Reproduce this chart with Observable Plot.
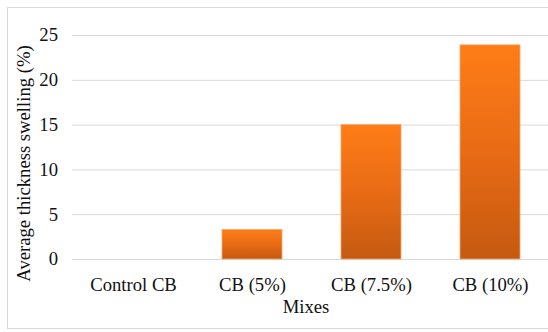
<!DOCTYPE html>
<html>
<head>
<meta charset="utf-8">
<script src="https://cdn.jsdelivr.net/npm/d3@7"></script>
<script src="https://cdn.jsdelivr.net/npm/@observablehq/plot@0.6"></script>
<style>
  html, body { margin: 0; padding: 0; background: #fff; overflow: hidden; }
  #wrap { position: relative; width: 548px; height: 332px; }
  #border { position: absolute; left: 7px; top: 7px; width: 600px; height: 322px; border: 1px solid #d9d9d9; box-sizing: border-box; pointer-events: none; }
  #chart { position: absolute; left: 0; top: 0; }
</style>
</head>
<body>
<div id="wrap">
  <div id="chart"></div>
  <div id="border"></div>
</div>
<script>
// Average thickness swelling per mix
const mixes = ["Control CB", "CB (5%)", "CB (7.5%)", "CB (10%)"];
const swelling = [0, 3.3, 15, 23.9];
const yTicks = [0, 5, 10, 15, 20, 25];
const xTitle = "Mixes";
const yTitle = "Average thickness swelling (%)";

const rows = mixes.map((mix, i) => ({mix, value: swelling[i]}));

const font = "'Liberation Serif', 'Times New Roman', serif";
const fs = 18.67;

const chart = Plot.plot({
  width: 548,
  height: 332,
  marginLeft: 72,
  marginRight: 0,
  marginTop: 35,
  marginBottom: 73,
  style: {fontFamily: font, fontSize: fs + "px", color: "#111", background: "transparent"},
  x: {domain: mixes, range: [72, 550], paddingInner: 0.5, paddingOuter: 0.25, label: null},
  y: {domain: [0, 25], label: null},
  marks: [
    Plot.ruleY(yTicks, {stroke: "#d9d9d9", strokeWidth: 1}),
    Plot.barY(rows, {
      x: "mix",
      y: "value",
      fill: "url(#barFill)",
      stroke: "#f5a86a",
      strokeWidth: 0.8,
      filter: d => d.value > 0
    }),
    Plot.axisY({ticks: yTicks, tickSize: 0, tickPadding: 14.5, label: null, fontSize: fs}),
    Plot.axisX({tickSize: 0, tickPadding: 17.75, label: null, fontSize: fs}),
    Plot.text([xTitle], {
      frameAnchor: "bottom", textAnchor: "middle", lineAnchor: "middle",
      dx: -4.5, dy: 48, fontSize: fs, fill: "#111"
    }),
    Plot.text([yTitle], {
      frameAnchor: "left", textAnchor: "middle", lineAnchor: "middle", rotate: -90,
      dx: -48, dy: 16, fontSize: fs, fill: "#111"
    })
  ]
});

// vertical gradient used to fill each bar, light orange on top to darker at the base
const defs = d3.select(chart).insert("defs", ":first-child");
const grad = defs.append("linearGradient")
  .attr("id", "barFill")
  .attr("x1", 0).attr("y1", 0).attr("x2", 0).attr("y2", 1);
grad.append("stop").attr("offset", "0%").attr("stop-color", "#ff7d17");
grad.append("stop").attr("offset", "50%").attr("stop-color", "#e86b15");
grad.append("stop").attr("offset", "100%").attr("stop-color", "#c55a11");

document.getElementById("chart").appendChild(chart);
</script>
</body>
</html>
